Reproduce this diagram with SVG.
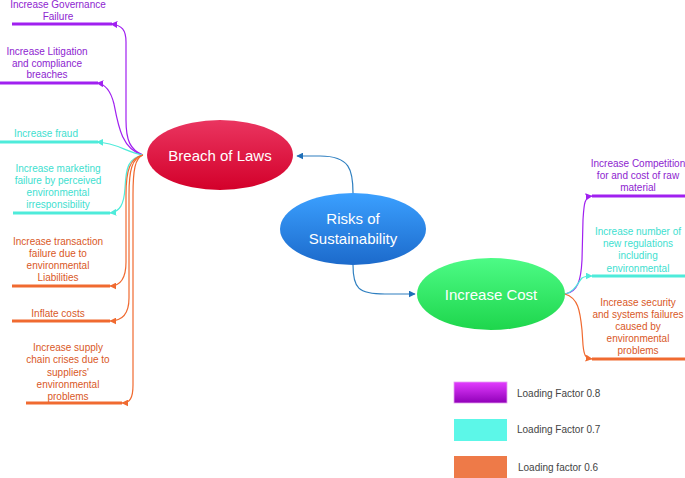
<svg xmlns="http://www.w3.org/2000/svg" width="685" height="478" viewBox="0 0 685 478">
<defs>
<linearGradient id="gRed" x1="0" y1="0" x2="0" y2="1"><stop offset="0" stop-color="#EA3560"/><stop offset="1" stop-color="#D3002A"/></linearGradient>
<linearGradient id="gBlue" x1="0" y1="0" x2="0" y2="1"><stop offset="0" stop-color="#3BA0FF"/><stop offset="1" stop-color="#1C6ACB"/></linearGradient>
<linearGradient id="gGreen" x1="0" y1="0" x2="0" y2="1"><stop offset="0" stop-color="#4DFB86"/><stop offset="1" stop-color="#1ED64C"/></linearGradient>
<linearGradient id="gPur" x1="0" y1="0" x2="0" y2="1"><stop offset="0" stop-color="#E23CFF"/><stop offset="1" stop-color="#9000B8"/></linearGradient>
<marker id="aBlue" viewBox="0 0 10 10" refX="9" refY="5" markerWidth="7" markerHeight="7" orient="auto" markerUnits="userSpaceOnUse"><path d="M0,0 L10,5 L0,10 z" fill="#1F6FB8"/></marker>
<marker id="aPur" viewBox="0 0 10 10" refX="9" refY="5" markerWidth="7" markerHeight="7" orient="auto" markerUnits="userSpaceOnUse"><path d="M0,0 L10,5 L0,10 z" fill="#A020F0"/></marker>
<marker id="aCyan" viewBox="0 0 10 10" refX="9" refY="5" markerWidth="7" markerHeight="7" orient="auto" markerUnits="userSpaceOnUse"><path d="M0,0 L10,5 L0,10 z" fill="#4EEBDA"/></marker>
<marker id="aOr" viewBox="0 0 10 10" refX="9" refY="5" markerWidth="7" markerHeight="7" orient="auto" markerUnits="userSpaceOnUse"><path d="M0,0 L10,5 L0,10 z" fill="#F06A30"/></marker>
</defs>
<style>
text{font-family:"Liberation Sans",Arial,sans-serif;}
.lbl{font-size:10px;text-anchor:middle;}
.tp{fill:#8E24D0;}
.tc{fill:#3EE0CF;}
.to{fill:#D9581F;}
.node{font-size:15px;fill:#FFFFFF;text-anchor:middle;}
.c{fill:none;stroke-width:1.2;}
.cp{stroke:#A020F0;}
.cc{stroke:#4EEBDA;}
.co{stroke:#F06A30;}
.cb{stroke:#2E7FC0;}
.ul{stroke-width:3;}
.leg{font-size:10px;fill:#444444;}
</style>

<g id="connectors">
<path class="c cb" d="M353,193 C353,170 350,156 320,156 L297,156" marker-end="url(#aBlue)"/>
<path class="c cb" d="M353,265 C353,288 358,294 385,294 L415,294" marker-end="url(#aBlue)"/>
<path class="c cp" d="M143,155 C130,150 126,140 126,120 L126,42 C126,30 122,25 111,24" marker-end="url(#aPur)"/>
<path class="c cp" d="M143,155 C122,150 118,125 114,104 C111,92 106,84 97,83" marker-end="url(#aPur)"/>
<path class="c cc" d="M143,155 C125,152 118,143 97,142" marker-end="url(#aCyan)"/>
<path class="c cc" d="M143,155 C128,158 126,168 125,188 C124,204 120,212 110,213" marker-end="url(#aCyan)"/>
<path class="c co" d="M143,155 C130,158 126,170 126,195 L126,262 C126,278 120,286 110,286" marker-end="url(#aOr)"/>
<path class="c co" d="M143,155 C132,158 129,170 129,195 L129,298 C129,314 122,321 110,321" marker-end="url(#aOr)"/>
<path class="c co" d="M143,155 C135,158 133,170 133,195 L133,385 C133,398 130,403 122,403" marker-end="url(#aOr)"/>
<path class="c cp" d="M565,294 C578,292 581,280 582,260 L583,220 C584,205 584,197 592,196" marker-end="url(#aPur)"/>
<path class="c cc" d="M565,294 C575,292 578,282 582,278 C585,276 587,276 592,276" marker-end="url(#aCyan)"/>
<path class="c co" d="M565,294 C578,298 580,310 582,330 L583,345 C584,355 585,358 592,359" marker-end="url(#aOr)"/>
<line class="cp ul" x1="12" y1="24" x2="112" y2="24"/>
<line class="cp ul" x1="0" y1="83" x2="98" y2="83"/>
<line class="cc ul" x1="0" y1="142" x2="98" y2="142"/>
<line class="cc ul" x1="13" y1="213" x2="110" y2="213"/>
<line class="co ul" x1="12" y1="286" x2="110" y2="286"/>
<line class="co ul" x1="12" y1="321" x2="110" y2="321"/>
<line class="co ul" x1="26" y1="403" x2="122" y2="403"/>
<line class="cp ul" x1="592" y1="196" x2="685" y2="196"/>
<line class="cc ul" x1="592" y1="276" x2="685" y2="276"/>
<line class="co ul" x1="592" y1="359" x2="685" y2="359"/>
</g>

<g id="risks">
<ellipse cx="353" cy="229" rx="73" ry="36" fill="url(#gBlue)"/>
<text class="node" x="353" y="224">Risks of</text>
<text class="node" x="353" y="244">Sustainability</text>
</g>
<g id="breach">
<ellipse cx="220" cy="155" rx="73" ry="35" fill="url(#gRed)"/>
<text class="node" x="220" y="161">Breach of Laws</text>
</g>
<g id="cost">
<ellipse cx="491" cy="294" rx="74" ry="36" fill="url(#gGreen)"/>
<text class="node" x="491" y="300">Increase Cost</text>
</g>

<g id="governance"><text class="lbl tp" x="58" y="8">Increase Governance</text><text class="lbl tp" x="58" y="20">Failure</text></g>
<g id="litigation"><text class="lbl tp" x="47" y="55">Increase Litigation</text><text class="lbl tp" x="47" y="67">and compliance</text><text class="lbl tp" x="47" y="78">breaches</text></g>
<g id="fraud"><text class="lbl tc" x="46" y="137">Increase fraud</text></g>
<g id="marketing"><text class="lbl tc" x="58" y="172">Increase marketing</text><text class="lbl tc" x="58" y="184">failure by perceived</text><text class="lbl tc" x="58" y="196">environmental</text><text class="lbl tc" x="58" y="208">irresponsibility</text></g>
<g id="transaction"><text class="lbl to" x="58" y="245">Increase transaction</text><text class="lbl to" x="58" y="257">failure due to</text><text class="lbl to" x="58" y="269">environmental</text><text class="lbl to" x="58" y="281">Liabilities</text></g>
<g id="inflate"><text class="lbl to" x="58" y="317">Inflate costs</text></g>
<g id="supply"><text class="lbl to" x="68" y="351">Increase supply</text><text class="lbl to" x="68" y="363">chain crises due to</text><text class="lbl to" x="68" y="376">suppliers'</text><text class="lbl to" x="68" y="388">environmental</text><text class="lbl to" x="68" y="400">problems</text></g>
<g id="competition"><text class="lbl tp" x="638" y="167">Increase Competition</text><text class="lbl tp" x="638" y="179">for and cost of raw</text><text class="lbl tp" x="638" y="191">material</text></g>
<g id="regulations"><text class="lbl tc" x="638" y="235">Increase number of</text><text class="lbl tc" x="638" y="247">new regulations</text><text class="lbl tc" x="638" y="259">including</text><text class="lbl tc" x="638" y="272">environmental</text></g>
<g id="security"><text class="lbl to" x="638" y="306">Increase security</text><text class="lbl to" x="638" y="318">and systems failures</text><text class="lbl to" x="638" y="330">caused by</text><text class="lbl to" x="638" y="342">environmental</text><text class="lbl to" x="638" y="354">problems</text></g>

<g id="legend">
<rect x="454" y="382" width="53" height="21" fill="url(#gPur)" stroke="#E6A0F0" stroke-width="0.8"/>
<text class="leg" x="517" y="397">Loading Factor 0.8</text>
<rect x="454" y="419" width="53" height="22" fill="#5CF7E8"/>
<text class="leg" x="517" y="433">Loading Factor 0.7</text>
<rect x="454" y="456" width="53" height="22" fill="#EE7A48"/>
<text class="leg" x="518" y="471">Loading factor 0.6</text>
</g>
</svg>
